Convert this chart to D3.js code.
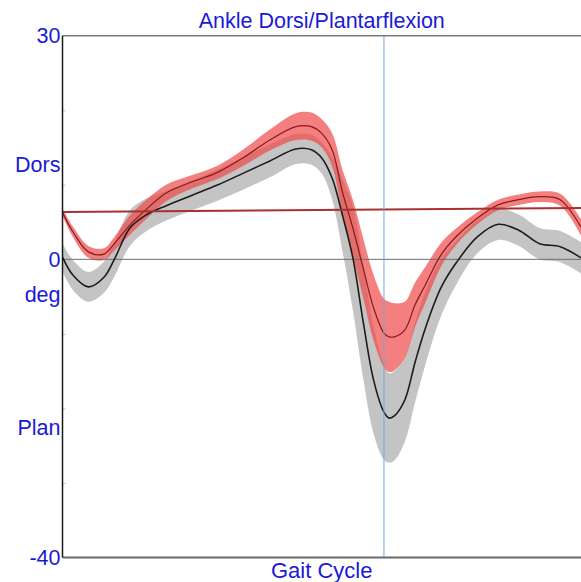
<!DOCTYPE html>
<html>
<head>
<meta charset="utf-8">
<script src="https://cdn.jsdelivr.net/npm/d3@7"></script>
<style>
  body { margin: 0; background: #fff; }
  svg text { font-family: "Liberation Sans", Arial, sans-serif; }
</style>
</head>
<body>
<div class="vis"></div>
<script>
// gait cycle percent
var pct = [0,2,5,8,10,13,16,20,25,30,35,40,45,48,50,52,54,56,58,60,62,63,64,66,68,70,73,76,80,84,88,92,96,100];
// normal reference (mean and sd, deg)
var normMean = [0.3,-2.1,-3.7,-2.4,0.0,4.2,5.9,7.2,8.6,10.0,11.6,13.2,14.8,14.7,13.6,10.9,5.9,0.2,-8.4,-16.2,-20.5,-21.3,-21.0,-18.9,-13.8,-9.2,-3.8,-0.4,3.0,4.7,3.9,2.1,1.7,0.2];
var normSd   = [1.9,2.0,2.0,2.1,2.3,2.4,2.2,2.0,2.0,2.1,2.2,2.2,2.0,2.0,2.1,2.9,4.8,7.0,7.6,7.2,6.4,6.0,6.0,5.6,5.4,4.9,3.8,2.9,2.2,2.1,2.1,2.1,2.1,2.1];
// patient (mean and sd, deg)
var patMean  = [6.3,3.7,1.0,0.7,2.1,4.6,6.6,8.9,10.4,11.7,13.7,16.0,17.8,17.8,16.9,14.7,9.0,4.2,-1.2,-6.5,-9.9,-10.4,-10.4,-9.5,-6.1,-3.4,0.6,3.1,5.5,7.3,8.0,8.4,8.0,4.3];
var patSd    = [0.5,0.7,0.8,0.8,0.9,1.3,1.3,1.1,0.9,0.9,1.1,1.4,1.8,1.9,1.9,2.2,3.0,3.8,4.0,4.4,4.6,4.7,4.5,3.8,3.0,2.4,1.6,1.1,0.8,0.7,0.7,0.7,0.8,1.1];
// reference line
var refPct = [0, 100];
var refVal = [6.35, 6.9];
var toeOff = 62;
var yLabels = [
  { v: 30, t: "30" },
  { v: 12.7, t: "Dors" },
  { v: 0, t: "0" },
  { v: -4.75, t: "deg" },
  { v: -22.6, t: "Plan" },
  { v: -40, t: "-40" }
];
var minorTicks = [20, 10, -10, -20, -30];

var w = 581, h = 582,
    plotL = 62.5, plotR = 581, plotT = 35.7, plotB = 557.5,
    blue = "#1a1ad6";

var x = d3.scaleLinear().domain([0, 100]).range([plotL, plotR]);
var y = d3.scaleLinear().domain([-40, 30]).range([plotB, plotT]);

var svg = d3.select(".vis").append("svg")
    .attr("width", w)
    .attr("height", h);

svg.append("clipPath").attr("id", "plot")
  .append("rect")
    .attr("x", plotL).attr("y", plotT)
    .attr("width", plotR - plotL).attr("height", plotB - plotT);

var g = svg.append("g").attr("clip-path", "url(#plot)");

function rows(mean, sd) {
  return pct.map(function(p, i) { return { p: p, m: mean[i], s: sd[i] }; });
}

var curve = d3.curveCatmullRom.alpha(0.5);

var band = d3.area()
    .curve(curve)
    .x(function(d) { return x(d.p); })
    .y0(function(d) { return y(d.m - d.s); })
    .y1(function(d) { return y(d.m + d.s); });

var line = d3.line()
    .curve(curve)
    .x(function(d) { return x(d.p); })
    .y(function(d) { return y(d.m); });

var norm = rows(normMean, normSd),
    pat = rows(patMean, patSd);

/* bands */
g.append("path").datum(norm)
    .attr("d", band)
    .attr("fill", "#c4c4c4");

g.append("path").datum(pat)
    .attr("d", band)
    .attr("fill", "#ee4848")
    .attr("fill-opacity", 0.7);

/* zero line */
g.append("line")
    .attr("x1", plotL).attr("x2", plotR)
    .attr("y1", y(0)).attr("y2", y(0))
    .attr("stroke", "#6e6e6e")
    .attr("stroke-width", 1);

/* mean lines */
g.append("path").datum(norm)
    .attr("d", line)
    .attr("fill", "none")
    .attr("stroke", "#1c1c1c")
    .attr("stroke-width", 1.6);

g.append("path").datum(pat)
    .attr("d", line)
    .attr("fill", "none")
    .attr("stroke", "#8a1a1a")
    .attr("stroke-width", 1.2);

/* reference line */
g.append("path").datum(refPct.map(function(p, i) { return { p: p, m: refVal[i] }; }))
    .attr("d", d3.line().x(function(d) { return x(d.p); }).y(function(d) { return y(d.m); }))
    .attr("fill", "none")
    .attr("stroke", "#a83030")
    .attr("stroke-width", 2);

/* toe off */
svg.append("line")
    .attr("x1", x(toeOff)).attr("x2", x(toeOff))
    .attr("y1", plotT).attr("y2", plotB)
    .attr("stroke", "#74a6d8")
    .attr("stroke-width", 1);

/* frame */
svg.append("line")
    .attr("x1", plotL).attr("x2", plotR)
    .attr("y1", plotT).attr("y2", plotT)
    .attr("stroke", "#7a7a7a")
    .attr("stroke-width", 1.5);

svg.append("line")
    .attr("x1", plotL).attr("x2", plotR)
    .attr("y1", plotB).attr("y2", plotB)
    .attr("stroke", "#6a6a6a")
    .attr("stroke-width", 2);

svg.append("g")
    .attr("transform", "translate(" + plotL + ",0)")
    .call(d3.axisRight(y).tickValues(minorTicks).tickSize(3).tickFormat(""))
    .call(function(a) {
      a.select(".domain").remove();
      a.selectAll(".tick line").attr("stroke", "#c8c8c8");
    });

svg.append("line")
    .attr("x1", plotL).attr("x2", plotL)
    .attr("y1", plotT).attr("y2", plotB)
    .attr("stroke", "#1a1a1a")
    .attr("stroke-width", 1.5);

/* y labels */
svg.selectAll("text.ylab")
    .data(yLabels)
  .enter().append("text")
    .attr("class", "ylab")
    .attr("x", plotL - 2)
    .attr("y", function(d) { return y(d.v); })
    .attr("dy", "0.35em")
    .attr("text-anchor", "end")
    .attr("font-size", 21.5)
    .attr("fill", blue)
    .text(function(d) { return d.t; });

/* titles */
svg.append("text")
    .attr("x", (plotL + plotR) / 2)
    .attr("y", 28)
    .attr("text-anchor", "middle")
    .attr("font-size", 21.5)
    .attr("fill", blue)
    .text("Ankle Dorsi/Plantarflexion");

svg.append("text")
    .attr("x", (plotL + plotR) / 2)
    .attr("y", 578)
    .attr("text-anchor", "middle")
    .attr("font-size", 22)
    .attr("fill", blue)
    .text("Gait Cycle");
</script>
</body>
</html>
